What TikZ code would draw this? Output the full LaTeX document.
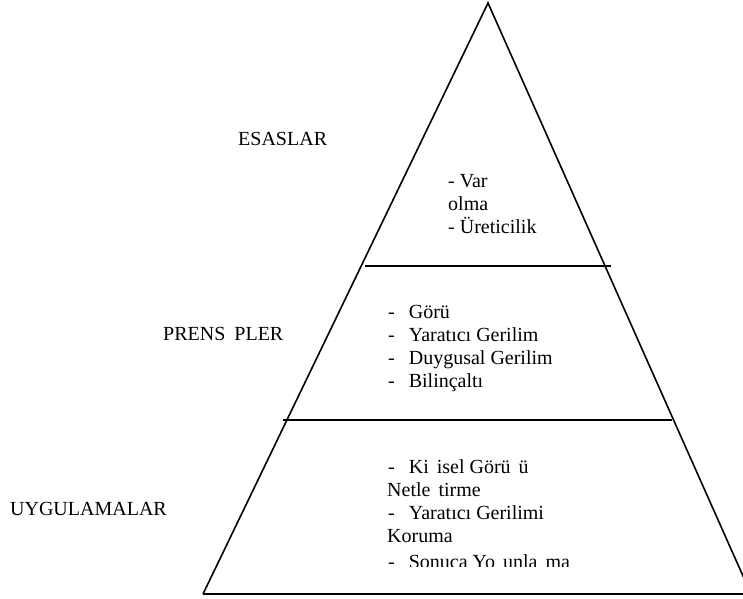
\documentclass[tikz,border=0pt]{standalone}
\usepackage{fontspec}
\setmainfont{Liberation Serif}
\begin{document}
\begin{tikzpicture}[x=1pt,y=-1pt,
  edge/.style={line width=1.6pt,line join=miter},
  lbl/.style={inner sep=0pt,font=\fontsize{20}{23}\selectfont},
  listtxt/.style={inner sep=0pt,font=\fontsize{20}{23}\selectfont,anchor=base west}]
\useasboundingbox (0,0) rectangle (743,598);
% pyramid outline
\coordinate (apex) at (488,3);
\coordinate (bl) at (203,594);
\coordinate (br) at (751,594);
\draw[edge] (bl) -- (apex) -- (br);
\draw[edge] (bl) -- (760,594);
% level dividers
\coordinate (d1l) at (365,266);
\coordinate (d1r) at (611,266);
\coordinate (d2l) at (283,420);
\coordinate (d2r) at (672,420);
\draw[edge] (d1l) -- (d1r);
\draw[edge] (d2l) -- (d2r);
% level titles
\node[lbl,anchor=base west] (esas) at (238,145) {ESASLAR};
\node[lbl,anchor=base west] (prens) at (163,340) {PRENS\hspace{0.45em}PLER};
\node[lbl,anchor=base east] (uyg) at (167,515) {UYGULAMALAR};
% top level
\node[listtxt] (t1) at (448,187) {- Var};
\node[listtxt] (t2) at (448,210) {olma};
\node[listtxt] (t3) at (448,233) {- Üreticilik};
% middle level
\node[listtxt] (m1) at (388,318) {-\hspace{0.7em}Görü};
\node[listtxt] (m2) at (388,341) {-\hspace{0.7em}Yaratıcı Gerilim};
\node[listtxt] (m3) at (388,364) {-\hspace{0.7em}Duygusal Gerilim};
\node[listtxt] (m4) at (388,387) {-\hspace{0.7em}Bilinçaltı};
% bottom level, last line cut off at its baseline
\begin{scope}
\clip (300,440) rectangle (700,566);
\node[listtxt] (b1) at (388,473) {-\hspace{0.7em}Ki\hspace{0.4em}isel Görü\hspace{0.4em}ü};
\node[listtxt] (b2) at (387,496) {Netle\hspace{0.4em}tirme};
\node[listtxt] (b3) at (388,519) {-\hspace{0.7em}Yaratıcı Gerilimi};
\node[listtxt] (b4) at (387,542) {Koruma};
\node[listtxt] (b5) at (388,568) {-\hspace{0.7em}Sonuca Yo\hspace{0.4em}unla\hspace{0.4em}ma};
\end{scope}
\end{tikzpicture}
\end{document}
